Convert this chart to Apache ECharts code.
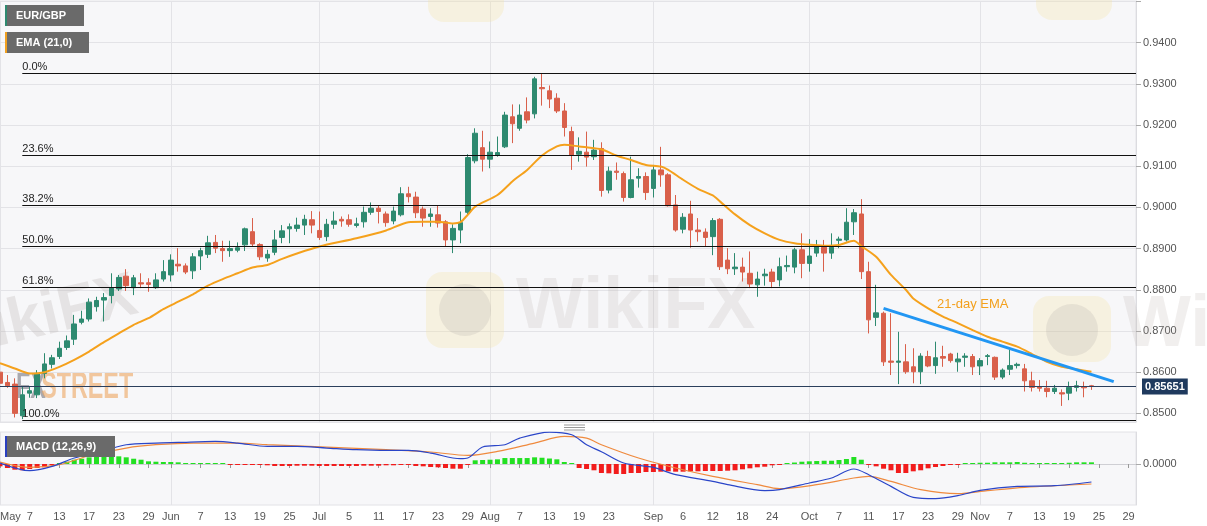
<!DOCTYPE html>
<html><head><meta charset="utf-8">
<script src="https://cdn.jsdelivr.net/npm/echarts@6/dist/echarts.min.js"></script>
<style>html,body{margin:0;padding:0;background:#fff;}#c{width:1207px;height:526px;}</style>
</head><body><div id="c"></div>
<script>
// ---- data ----
const opens = [0.8600,0.8575,0.8571,0.8494,0.8549,0.8545,0.8597,0.8619,0.8638,0.8660,
0.8680,0.8721,0.8729,0.8759,0.8775,0.8786,0.8802,0.8833,0.8805,0.8817,
0.8817,0.8805,0.8826,0.8836,0.8862,0.8858,0.8846,0.8882,0.8886,0.8915,
0.8900,0.8895,0.8896,0.8909,0.8941,0.8910,0.8877,0.8891,0.8927,0.8948,
0.8949,0.8957,0.8970,0.8944,0.8929,0.8959,0.8971,0.8970,0.8956,0.8965,
0.8988,0.8998,0.8984,0.8967,0.8982,0.9033,0.9025,0.8996,0.8978,0.8982,
0.8965,0.8921,0.8945,0.8988,0.9113,0.9145,0.9117,0.9126,0.9147,0.9220,
0.9192,0.9232,0.9227,0.9291,0.9283,0.9265,0.9234,0.9184,0.9129,0.9134,
0.9123,0.9143,0.9042,0.9088,0.9082,0.9024,0.9071,0.9075,0.9046,0.9091,
0.9079,0.9006,0.8947,0.8984,0.8945,0.8940,0.8929,0.8971,0.8872,0.8851,
0.8855,0.8840,0.8812,0.8834,0.8843,0.8824,0.8856,0.8855,0.8897,0.8864,
0.8889,0.8903,0.8889,0.8920,0.8921,0.8965,0.8984,0.8844,0.8733,0.8743,
0.8627,0.8624,0.8625,0.8613,0.8601,0.8638,0.8616,0.8638,0.8644,0.8625,
0.8636,0.8638,0.8615,0.8638,0.8636,0.8588,0.8607,0.8616,0.8608,0.8579,
0.8565,0.8561,0.8553,0.8550,0.8549,0.8563,0.8565,0.8567];
const closes = [0.8573,0.8567,0.8500,0.8545,0.8555,0.8597,0.8620,0.8635,0.8658,0.8676,
0.8717,0.8729,0.8770,0.8774,0.8781,0.8804,0.8830,0.8810,0.8829,0.8814,
0.8813,0.8824,0.8844,0.8872,0.8858,0.8843,0.8880,0.8895,0.8914,0.8901,
0.8895,0.8900,0.8902,0.8948,0.8911,0.8880,0.8886,0.8921,0.8943,0.8953,
0.8957,0.8971,0.8957,0.8927,0.8959,0.8967,0.8967,0.8959,0.8960,0.8988,
0.8998,0.8990,0.8963,0.8991,0.9033,0.9026,0.8987,0.8974,0.8984,0.8962,
0.8921,0.8949,0.8963,0.9121,0.9180,0.9117,0.9134,0.9133,0.9224,0.9203,
0.9224,0.9212,0.9312,0.9288,0.9263,0.9234,0.9194,0.9127,0.9136,0.9122,
0.9139,0.9041,0.9088,0.9085,0.9024,0.9067,0.9075,0.9036,0.9091,0.9079,
0.9004,0.8945,0.8976,0.8945,0.8941,0.8927,0.8968,0.8856,0.8851,0.8855,
0.8843,0.8814,0.8826,0.8838,0.8820,0.8856,0.8859,0.8897,0.8864,0.8882,
0.8906,0.8889,0.8903,0.8923,0.8964,0.8987,0.8844,0.8727,0.8744,0.8625,
0.8624,0.8627,0.8601,0.8601,0.8639,0.8615,0.8635,0.8634,0.8628,0.8632,
0.8639,0.8613,0.8628,0.8640,0.8588,0.8605,0.8616,0.8619,0.8579,0.8563,
0.8561,0.8553,0.8561,0.8547,0.8563,0.8567,0.8562,0.85651];
const lows = [0.8565,0.8562,0.8490,0.8486,0.8538,0.8537,0.8585,0.8609,0.8632,0.8654,
0.8666,0.8716,0.8723,0.8747,0.8723,0.8767,0.8797,0.8797,0.8787,0.8804,
0.8795,0.8802,0.8820,0.8820,0.8844,0.8838,0.8826,0.8848,0.8877,0.8889,
0.8868,0.8880,0.8891,0.8894,0.8905,0.8872,0.8868,0.8884,0.8913,0.8913,
0.8941,0.8933,0.8937,0.8921,0.8918,0.8948,0.8953,0.8953,0.8951,0.8951,
0.8982,0.8961,0.8953,0.8959,0.8978,0.9012,0.8974,0.8953,0.8953,0.8951,
0.8905,0.8889,0.8913,0.8982,0.9107,0.9087,0.9095,0.9123,0.9144,0.9156,
0.9186,0.9204,0.9216,0.9247,0.9241,0.9229,0.9172,0.9091,0.9111,0.9099,
0.9115,0.9026,0.9034,0.9067,0.9014,0.9022,0.9048,0.9018,0.9024,0.9050,
0.9002,0.8941,0.8937,0.8902,0.8917,0.8905,0.8884,0.8848,0.8838,0.8836,
0.8820,0.8804,0.8783,0.8810,0.8804,0.8808,0.8844,0.8840,0.8828,0.8844,
0.8880,0.8844,0.8875,0.8901,0.8917,0.8933,0.8826,0.8694,0.8712,0.8615,
0.8593,0.8571,0.8596,0.8573,0.8571,0.8612,0.8596,0.8613,0.8623,0.8601,
0.8613,0.8593,0.8593,0.8617,0.8581,0.8583,0.8593,0.8609,0.8553,0.8553,
0.8553,0.8539,0.8547,0.8518,0.8532,0.8553,0.8539,0.8557];
const highs = [0.8605,0.8593,0.8585,0.8565,0.8566,0.8605,0.8646,0.8642,0.8674,0.8689,
0.8739,0.8749,0.8779,0.8783,0.8792,0.8840,0.8836,0.8850,0.8836,0.8840,
0.8828,0.8840,0.8872,0.8886,0.8901,0.8864,0.8889,0.8902,0.8931,0.8933,
0.8919,0.8919,0.8915,0.8951,0.8974,0.8913,0.8897,0.8945,0.8957,0.8961,
0.8975,0.8982,0.8991,0.8990,0.8972,0.8990,0.8978,0.8983,0.8975,0.9002,
0.9012,0.9004,0.8990,0.9002,0.9049,0.9050,0.9038,0.9002,0.8998,0.9004,
0.8969,0.8959,0.8990,0.9129,0.9192,0.9186,0.9160,0.9172,0.9232,0.9250,
0.9250,0.9267,0.9317,0.9326,0.9296,0.9277,0.9253,0.9196,0.9170,0.9184,
0.9164,0.9158,0.9099,0.9109,0.9087,0.9123,0.9095,0.9085,0.9103,0.9147,
0.9083,0.9030,0.8986,0.9016,0.8974,0.8949,0.8974,0.8974,0.8901,0.8889,
0.8878,0.8893,0.8844,0.8851,0.8851,0.8878,0.8883,0.8902,0.8937,0.8923,
0.8921,0.8921,0.8937,0.8929,0.8998,0.8996,0.9020,0.8868,0.8812,0.8747,
0.8743,0.8698,0.8668,0.8658,0.8646,0.8652,0.8674,0.8664,0.8647,0.8647,
0.8646,0.8644,0.8634,0.8644,0.8638,0.8609,0.8654,0.8623,0.8620,0.8601,
0.8581,0.8579,0.8569,0.8558,0.8577,0.8579,0.8577,0.8569];

// 21-day EMA, read at [trading-day index, value]
const emaPoints = [[0,0.8622],[2,0.8609],[4,0.8597],[6,0.8600],[8,0.8613],[10,0.8630],[12,0.8650],[14,0.8673],[16,0.8694],[18,0.8715],[20,0.8731],[22,0.8753],[24,0.8771],[26,0.8789],[28,0.8810],[30,0.8826],[32,0.8840],[34,0.8854],[36,0.8860],[38,0.8875],[40,0.8888],[43,0.8905],[48,0.8925],[52,0.8944],[55,0.8964],[57,0.8965],[59,0.8965],[61,0.8961],[62,0.8964],[63,0.8982],[64,0.9002],[67,0.9030],[69,0.9063],[71,0.9091],[73,0.9126],[75,0.9148],[76,0.9152],[78,0.9148],[79,0.9146],[81,0.9141],[83,0.9126],[85,0.9115],[87,0.9103],[89,0.9099],[90,0.9091],[92,0.9067],[94,0.9045],[96,0.9029],[97,0.9014],[99,0.8983],[101,0.8957],[103,0.8937],[105,0.8921],[107,0.8913],[109,0.8909],[111,0.8907],[113,0.8909],[115,0.8919],[116,0.8906],[118,0.8880],[120,0.8836],[122,0.8800],[123,0.8779],[125,0.8755],[127,0.8735],[129,0.8719],[131,0.8702],[133,0.8686],[135,0.8674],[137,0.8662],[139,0.8644],[141,0.8625],[143,0.8613],[145,0.8607],[147,0.8601]];

// MACD (12,26,9)
const macdPoints = [[0,0.00023],[4,-0.00157],[7,-0.00056],[10,0.0014],[14,0.0031],[17,0.00452],[21,0.00491],[24,0.00505],[29,0.00529],[32,0.00491],[36,0.00412],[40,0.00412],[44,0.00374],[48,0.00335],[52,0.00318],[55,0.00318],[58,0.00257],[62,0.00124],[63,0.0014],[65,0.0040],[68,0.00452],[70,0.00608],[74,0.00749],[77,0.00686],[79,0.00452],[81,0.00288],[84,0.00023],[88,-0.0008],[91,-0.0025],[96,-0.00407],[98,-0.00484],[103,-0.00625],[105,-0.00601],[109,-0.00445],[112,-0.00328],[115,-0.00117],[117,-0.0025],[120,-0.00524],[123,-0.00782],[126,-0.00812],[129,-0.00742],[132,-0.00618],[137,-0.00524],[142,-0.00508],[147,-0.00421]];
const signalPoints = [[0,0.00047],[4,-0.0008],[8,-0.00016],[12,0.00194],[17,0.00374],[21,0.00452],[26,0.00491],[32,0.00491],[36,0.00452],[44,0.00398],[52,0.00335],[58,0.00281],[63,0.00201],[67,0.00295],[72,0.00491],[76,0.00646],[79,0.00608],[81,0.00452],[86,0.0014],[91,-0.00094],[96,-0.0029],[102,-0.00484],[105,-0.00578],[110,-0.00484],[115,-0.00328],[117,-0.0029],[120,-0.00407],[124,-0.00601],[129,-0.00695],[133,-0.00625],[138,-0.00548],[147,-0.00468]];
const macdHist = [-0.00054,-0.00094,-0.00133,-0.00147,-0.00117,-0.00094,-0.00077,-0.00016,0.00023,0.00054,
0.00101,0.00124,0.00157,0.00164,0.00164,0.00164,0.0018,0.00157,0.00124,0.00101,
0.00063,0.00054,0.00047,0.00047,0.0004,0.00023,0.00023,0.00023,0.00023,0.00016,
0.00007,-0.00007,-0.00007,-0.00007,-0.00012,-0.00023,-0.0003,-0.00047,-0.00047,-0.00047,
-0.0004,-0.0004,-0.0004,-0.00047,-0.00047,-0.00047,-0.00047,-0.00047,-0.00047,-0.0004,
-0.0004,-0.0004,-0.0003,-0.0003,-0.00023,-0.00016,-0.00047,-0.00054,-0.0007,-0.00077,
-0.00094,-0.0011,-0.0011,-0.00012,0.00087,0.00094,0.00101,0.0011,0.0014,0.0014,
0.0014,0.0014,0.00157,0.00147,0.00129,0.0011,0.00047,0.00023,-0.00094,-0.00117,
-0.00147,-0.00211,-0.00218,-0.00234,-0.00234,-0.00211,-0.00211,-0.00187,-0.00187,-0.0018,
-0.00171,-0.0018,-0.0018,-0.00171,-0.00171,-0.00164,-0.00164,-0.00164,-0.00157,-0.00147,
-0.00124,-0.00101,-0.00077,-0.00063,-0.0003,-0.00007,0.00016,0.00035,0.00054,0.00063,
0.0007,0.00077,0.00077,0.00094,0.00117,0.00164,0.00101,-0.00007,-0.00054,-0.0011,
-0.00147,-0.00211,-0.00211,-0.00171,-0.00147,-0.00101,-0.0007,-0.00047,-0.00016,-0.00007,
0.00012,0.00023,0.0003,0.0003,0.0004,0.0004,0.0004,0.00047,0.0003,0.00023,
0.00023,0.00023,0.00023,0.00023,0.0003,0.0004,0.0004,0.0004];

// Fibonacci retracement levels and labels
const fibLevels = [0.9326, 0.9127, 0.9004, 0.8905, 0.8805, 0.8483];
const fibLabels = ['0.0%', '23.6%', '38.2%', '50.0%', '61.8%', '100.0%'];
const fibStartIdx = 3;
const lastPrice = 0.85651;
const trendStart = [119, 0.8755];
const trendEnd = [150, 0.8577];

// x-axis tick labels
const tickDates = ['2019-05-01','2019-05-07','2019-05-13','2019-05-17','2019-05-23','2019-05-29','2019-06-03','2019-06-07','2019-06-13','2019-06-19','2019-06-25','2019-07-01','2019-07-05','2019-07-11','2019-07-17','2019-07-23','2019-07-29','2019-08-01','2019-08-07','2019-08-13','2019-08-19','2019-08-23','2019-09-02','2019-09-06','2019-09-12','2019-09-18','2019-09-24','2019-10-01','2019-10-07','2019-10-11','2019-10-17','2019-10-23','2019-10-29','2019-11-01','2019-11-07','2019-11-13','2019-11-19','2019-11-25','2019-11-29'];
const tickLabels = ['May','7','13','17','23','29','Jun','7','13','19','25','Jul','5','11','17','23','29','Aug','7','13','19','23','Sep','6','12','18','24','Oct','7','11','17','23','29','Nov','7','13','19','25','29'];

// categories: trading days (weekdays) 2019-05-01 .. 2019-12-02
const categories = [];
(function () {
  const d = new Date(Date.UTC(2019, 4, 1));
  const end = new Date(Date.UTC(2019, 11, 2));
  while (d <= end) {
    const wd = d.getUTCDay();
    if (wd !== 0 && wd !== 6) categories.push(d.toISOString().slice(0, 10));
    d.setUTCDate(d.getUTCDate() + 1);
  }
})();
const lastIdx = categories.length - 1;
const monthStarts = tickDates.filter((t, i) => isNaN(Number(tickLabels[i])));

const GREEN = '#2e8a70', RED = '#d9604b';
const FONT = '"Liberation Sans", Arial, sans-serif';

const fibMark = fibLevels.map((lv, k) => [
  { coord: [fibStartIdx, lv], lineStyle: { color: '#111', width: 1.2, type: 'solid' },
    label: { show: true, position: 'insideStartTop', formatter: fibLabels[k], color: '#222',
      fontSize: 11, fontFamily: FONT, distance: [0, 1] } },
  { coord: [lastIdx, lv] }
]);

const chart = echarts.init(document.getElementById('c'));
chart.setOption({
  animation: false,
  backgroundColor: '#ffffff',
  textStyle: { fontFamily: FONT },
  grid: [
    { left: 0, right: 71, top: 1, height: 421, show: true, backgroundColor: '#f7f7f9',
      borderColor: '#e2e2e6', borderWidth: 1, outerBoundsMode: 'none' },
    { left: 0, right: 71, top: 432, height: 73, show: true, backgroundColor: '#f7f7f9',
      borderColor: '#e2e2e6', borderWidth: 1, outerBoundsMode: 'none' }
  ],
  xAxis: [
    { type: 'category', gridIndex: 0, data: categories, boundaryGap: false,
      axisLine: { show: false }, axisTick: { show: false }, axisLabel: { show: false },
      splitLine: { show: true, interval: (i, v) => monthStarts.indexOf(v) >= 0,
        lineStyle: { color: '#e3e3e7', width: 1 } } },
    { type: 'category', gridIndex: 1, data: categories, boundaryGap: false,
      axisLine: { show: true, lineStyle: { color: '#cfcfd4' } },
      axisTick: { show: true, interval: (i, v) => tickDates.indexOf(v) >= 0, length: 4,
        lineStyle: { color: '#999' } },
      axisLabel: { show: true, interval: (i, v) => tickDates.indexOf(v) >= 0,
        formatter: v => tickLabels[tickDates.indexOf(v)], color: '#555', fontSize: 11,
        margin: 6, alignMinLabel: 'left' },
      splitLine: { show: true, interval: (i, v) => monthStarts.indexOf(v) >= 0,
        lineStyle: { color: '#e3e3e7', width: 1 } } }
  ],
  yAxis: [
    { type: 'value', gridIndex: 0, position: 'right', min: 0.8479, max: 0.9501,
      splitNumber: 10, minInterval: 0.01, maxInterval: 0.01,
      axisLine: { show: true, lineStyle: { color: '#dcdce0' } },
      axisTick: { show: true, length: 5, lineStyle: { color: '#aaa' } },
      axisLabel: { formatter: v => (v > 0.9450 || v < 0.8490 ? '' : v.toFixed(4)), color: '#555', fontSize: 11, margin: 7,
        showMinLabel: false, showMaxLabel: false },
      splitLine: { show: true, lineStyle: { color: '#e3e3e7' } } },
    { type: 'value', gridIndex: 1, position: 'right', min: -0.0096, max: 0.0075, interval: 0.0096,
      axisLine: { show: true, lineStyle: { color: '#dcdce0' } },
      axisTick: { show: true, length: 5, lineStyle: { color: '#aaa' } },
      axisLabel: { formatter: v => (Math.abs(v) < 1e-9 ? '0.0000' : ''), color: '#555',
        fontSize: 11, margin: 7, showMinLabel: false, showMaxLabel: false },
      splitLine: { show: false } }
  ],
  series: [
    { type: 'candlestick', name: 'EUR/GBP', xAxisIndex: 0, yAxisIndex: 0, barWidth: 5,
      data: opens.map((o, i) => [o, closes[i], lows[i], highs[i]]),
      itemStyle: { color: GREEN, color0: RED, borderColor: GREEN, borderColor0: RED, borderWidth: 1 },
      markLine: { silent: true, symbol: ['none', 'none'], animation: false, precision: 5,
        lineStyle: { type: 'solid' },
        data: fibMark.concat([
          { yAxis: lastPrice, lineStyle: { color: '#2b3f5c', width: 1, type: 'solid' },
            label: { show: true, position: 'end', formatter: lastPrice.toFixed(5),
              backgroundColor: '#1f3a5e', color: '#fff', fontWeight: 'bold', fontSize: 11,
              padding: [3, 3, 2, 3], distance: 6, fontFamily: FONT } },
          [ { coord: trendStart, lineStyle: { color: '#2196f3', width: 3, type: 'solid' }, label: { show: false } },
            { coord: trendEnd } ]
        ]) } },
    { type: 'line', name: 'EMA (21,0)', xAxisIndex: 0, yAxisIndex: 0, data: emaPoints,
      showSymbol: false, smooth: 0.25, lineStyle: { color: '#f5a11c', width: 2 }, z: 3 },
    { type: 'bar', name: 'Histogram', xAxisIndex: 1, yAxisIndex: 1, data: macdHist, barWidth: 5,
      barMinHeight: 1,
      itemStyle: { color: p => (p.value >= 0 ? '#22e022' : '#f21c1c') } },
    { type: 'line', name: 'MACD', xAxisIndex: 1, yAxisIndex: 1, data: macdPoints,
      showSymbol: false, smooth: 0.3, lineStyle: { color: '#2a45c8', width: 1.2 }, z: 4 },
    { type: 'line', name: 'Signal', xAxisIndex: 1, yAxisIndex: 1, data: signalPoints,
      showSymbol: false, smooth: 0.3, lineStyle: { color: '#ef8a3e', width: 1.2 }, z: 3 }
  ],
  graphic: [
    // watermarks
    { type: 'rect', z: 1, silent: true, shape: { x: 426, y: 272, width: 78, height: 76, r: 16 }, style: { fill: 'rgba(246,226,160,0.28)' } },
    { type: 'circle', z: 1, silent: true, shape: { cx: 465, cy: 310, r: 26 }, style: { fill: 'rgba(150,145,140,0.16)' } },
    { type: 'text', z: 1, silent: true, x: 516, y: 272, style: { text: 'WikiFX', font: 'bold 72px ' + FONT, fill: 'rgba(175,165,160,0.18)', verticalAlign: 'top' } },
    { type: 'rect', z: 1, silent: true, shape: { x: 1033, y: 296, width: 78, height: 66, r: 16 }, style: { fill: 'rgba(246,226,160,0.28)' } },
    { type: 'circle', z: 1, silent: true, shape: { cx: 1072, cy: 330, r: 26 }, style: { fill: 'rgba(150,145,140,0.16)' } },
    { type: 'text', z: 1, silent: true, x: 1123, y: 290, style: { text: 'WikiFX', font: 'bold 72px ' + FONT, fill: 'rgba(175,165,160,0.18)', verticalAlign: 'top' } },
    { type: 'rect', z: 1, silent: true, shape: { x: 428, y: -50, width: 76, height: 72, r: 16 }, style: { fill: 'rgba(246,226,160,0.28)' } },
    { type: 'rect', z: 1, silent: true, shape: { x: 1036, y: -50, width: 76, height: 70, r: 16 }, style: { fill: 'rgba(246,226,160,0.28)' } },
    { type: 'text', z: 1, silent: true, x: 136, y: 296, rotation: 0.23,
      style: { text: 'WikiFX', font: 'bold 62px ' + FONT, fill: 'rgba(170,160,155,0.22)', align: 'right', verticalAlign: 'middle' } },
    { type: 'group', z: 1, silent: true, x: 16, y: 369, scaleX: 0.63, children: [
      { type: 'text', x: 0, y: 0, style: { text: 'FX', font: 'bold 37px ' + FONT, fill: 'rgba(105,105,115,0.55)', verticalAlign: 'top' } },
      { type: 'text', x: 40, y: 0, style: { text: 'STREET', font: 'bold 37px ' + FONT, fill: 'rgba(236,165,95,0.6)', verticalAlign: 'top' } }
    ] },
    // legend boxes
    { type: 'rect', z: 20, shape: { x: 5, y: 5, width: 79, height: 21 }, style: { fill: '#6a6a6a' } },
    { type: 'rect', z: 21, shape: { x: 5, y: 5, width: 2, height: 21 }, style: { fill: '#2e8a70' } },
    { type: 'text', z: 22, x: 16, y: 15.5, style: { text: 'EUR/GBP', font: 'bold 11px ' + FONT, fill: '#fff', verticalAlign: 'middle' } },
    { type: 'rect', z: 20, shape: { x: 5, y: 32, width: 84, height: 21 }, style: { fill: '#6a6a6a' } },
    { type: 'rect', z: 21, shape: { x: 5, y: 32, width: 2, height: 21 }, style: { fill: '#f0a020' } },
    { type: 'text', z: 22, x: 16, y: 42.5, style: { text: 'EMA (21,0)', font: 'bold 11px ' + FONT, fill: '#fff', verticalAlign: 'middle' } },
    { type: 'rect', z: 20, shape: { x: 5, y: 436, width: 110, height: 21 }, style: { fill: '#6a6a6a' } },
    { type: 'rect', z: 21, shape: { x: 5, y: 436, width: 2, height: 21 }, style: { fill: '#2a3fbf' } },
    { type: 'text', z: 22, x: 16, y: 446.5, style: { text: 'MACD (12,26,9)', font: 'bold 11px ' + FONT, fill: '#fff', verticalAlign: 'middle' } },
    // annotation
    { type: 'text', z: 10, x: 937, y: 298, style: { text: '21-day EMA', font: '13px ' + FONT, fill: '#f3a01c', verticalAlign: 'top' } },
    // pane resize handle
    { type: 'group', z: 10, x: 564, y: 425, children: [
      { type: 'line', shape: { x1: 0, y1: 0, x2: 21, y2: 0 }, style: { stroke: '#999', lineWidth: 1 } },
      { type: 'line', shape: { x1: 0, y1: 2.5, x2: 21, y2: 2.5 }, style: { stroke: '#999', lineWidth: 1 } },
      { type: 'line', shape: { x1: 0, y1: 5, x2: 21, y2: 5 }, style: { stroke: '#999', lineWidth: 1 } }
    ] }
  ]
});
</script>
</body></html>
